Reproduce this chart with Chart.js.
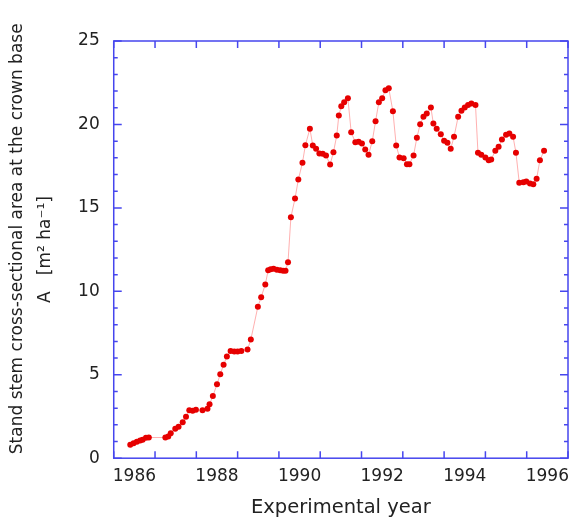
<!DOCTYPE html>
<html>
<head>
<meta charset="utf-8">
<script src="https://cdn.jsdelivr.net/npm/chart.js@4.4.1/dist/chart.umd.min.js"></script>
<style>
  html, body { margin: 0; padding: 0; background: #fff; }
  #wrap { width: 571px; height: 521px; }
</style>
</head>
<body>
<div id="wrap"><canvas id="chart"></canvas></div>
<script>
// Stand stem cross-sectional area at the crown base, 1986-1996
const years = [
  1986.40, 1986.48, 1986.56, 1986.64, 1986.70, 1986.78, 1986.85,
  1987.25, 1987.32, 1987.38, 1987.49, 1987.57, 1987.67, 1987.75, 1987.83, 1987.91, 1987.99,
  1988.15, 1988.27, 1988.32, 1988.40, 1988.50, 1988.58, 1988.66, 1988.74, 1988.83, 1988.92,
  1989.00, 1989.09, 1989.24, 1989.32, 1989.49, 1989.57, 1989.67, 1989.74, 1989.80, 1989.87, 1989.95,
  1990.03, 1990.10, 1990.16, 1990.22, 1990.29, 1990.39, 1990.47, 1990.57, 1990.64, 1990.75, 1990.82, 1990.90, 1990.98,
  1991.06, 1991.14, 1991.24, 1991.32, 1991.40, 1991.45, 1991.51, 1991.58, 1991.67, 1991.75, 1991.85, 1991.93,
  1992.01, 1992.09, 1992.17, 1992.26, 1992.34, 1992.42, 1992.50, 1992.58, 1992.66, 1992.76, 1992.84, 1992.92,
  1993.02, 1993.10, 1993.16, 1993.26, 1993.34, 1993.42, 1993.50, 1993.58, 1993.68, 1993.74, 1993.82, 1993.92,
  1994.00, 1994.08, 1994.16, 1994.24, 1994.34, 1994.42, 1994.50, 1994.58, 1994.66, 1994.76, 1994.82, 1994.90,
  1995.00, 1995.08, 1995.14, 1995.24, 1995.32, 1995.40, 1995.50, 1995.58, 1995.67, 1995.74, 1995.82, 1995.92, 1995.99,
  1996.08, 1996.16, 1996.24, 1996.32, 1996.42
];
const area = [
  0.80, 0.90, 0.98, 1.06, 1.10, 1.22, 1.24,
  1.24, 1.30, 1.50, 1.76, 1.88, 2.16, 2.48, 2.88, 2.84, 2.90,
  2.88, 2.96, 3.24, 3.72, 4.43, 5.03, 5.60, 6.09, 6.43, 6.39,
  6.39, 6.43, 6.51, 7.11, 9.07, 9.65, 10.41, 11.26, 11.32, 11.35, 11.30,
  11.26, 11.24, 11.24, 11.74, 14.44, 15.56, 16.70, 17.70, 18.75, 19.74, 18.74, 18.54, 18.26,
  18.24, 18.14, 17.60, 18.33, 19.33, 20.53, 21.09, 21.33, 21.57, 19.53, 18.93, 18.97,
  18.86, 18.50, 18.18, 18.99, 20.19, 21.33, 21.57, 22.05, 22.17, 20.79, 18.74, 18.02,
  17.98, 17.62, 17.62, 18.14, 19.20, 20.01, 20.46, 20.65, 21.01, 20.05, 19.74, 19.41,
  19.02, 18.90, 18.54, 19.26, 20.46, 20.82, 21.01, 21.17, 21.25, 21.17, 18.30, 18.18,
  18.02, 17.86, 17.90, 18.42, 18.66, 19.10, 19.38, 19.46, 19.26, 18.30, 16.50, 16.54, 16.58,
  16.46, 16.42, 16.74, 17.86, 18.42
];

// axis ticks
const xTickYears = [1986, 1987, 1988, 1989, 1990, 1991, 1992, 1993, 1994, 1995, 1996, 1997];
const xLabelYears = [1986, 1988, 1990, 1992, 1994, 1996];
const xLabels = ['1986', '1988', '1990', '1992', '1994', '1996'];
const yMinorTicks = [0, 1, 2, 3, 4, 5, 6, 7, 8, 9, 10, 11, 12, 13, 14, 15, 16, 17, 18, 19, 20, 21, 22, 23, 24, 25];
const yMajorTicks = [0, 5, 10, 15, 20, 25];

const FONT = 'DejaVu Sans, sans-serif';
const AXIS_BLUE = '#4646ee';

// blue box with inward tick marks on all four sides
const frameTicks = {
  id: 'frameTicks',
  afterDraw(chart) {
    const ctx = chart.ctx;
    const a = chart.chartArea;
    const xs = chart.scales.x, ys = chart.scales.y;
    ctx.save();
    ctx.strokeStyle = AXIS_BLUE;
    ctx.lineWidth = 1.5;
    ctx.strokeRect(a.left, a.top, a.right - a.left, a.bottom - a.top);
    ctx.beginPath();
    xTickYears.forEach(yr => {
      const px = xs.getPixelForValue(yr);
      ctx.moveTo(px, a.bottom); ctx.lineTo(px, a.bottom - 7);
      ctx.moveTo(px, a.top); ctx.lineTo(px, a.top + 7);
    });
    yMinorTicks.forEach(v => {
      const py = ys.getPixelForValue(v);
      const len = yMajorTicks.includes(v) ? 8 : 4;
      ctx.moveTo(a.left, py); ctx.lineTo(a.left + len, py);
      ctx.moveTo(a.right, py); ctx.lineTo(a.right - len, py);
    });
    ctx.stroke();
    ctx.restore();
  }
};

new Chart(document.getElementById('chart'), {
  type: 'scatter',
  data: {
    datasets: [{
      data: years.map((yr, i) => ({ x: yr, y: area[i] })),
      showLine: true,
      borderColor: 'rgba(255, 80, 80, 0.45)',
      borderWidth: 1,
      pointRadius: 3,
      pointBackgroundColor: '#e60000',
      pointBorderWidth: 0,
      pointHoverRadius: 3
    }]
  },
  options: {
    responsive: true,
    maintainAspectRatio: false,
    animation: false,
    layout: { padding: { top: 41, right: 3, left: 4, bottom: 1 } },
    plugins: {
      legend: { display: false },
      tooltip: { enabled: false }
    },
    scales: {
      x: {
        type: 'linear',
        min: 1986,
        max: 1997,
        grid: { display: false, drawTicks: false },
        border: { display: false },
        afterBuildTicks: scale => {
          scale.ticks = xLabelYears.map(yr => ({ value: yr + 0.5 }));
        },
        // let the last label run into the margin, as in the original
        afterFit: scale => {
          scale.paddingRight = 0;
        },
        ticks: {
          autoSkip: false,
          maxRotation: 0,
          padding: 8,
          color: '#222',
          font: { family: FONT, size: 17 },
          callback: (v, i) => xLabels[i]
        },
        title: {
          display: true,
          text: 'Experimental year',
          color: '#222',
          font: { family: FONT, size: 19.5 },
          padding: { top: 2, bottom: 0 }
        }
      },
      y: {
        min: 0,
        max: 25,
        grid: { display: false, drawTicks: false },
        border: { display: false },
        afterBuildTicks: scale => {
          scale.ticks = yMajorTicks.map(v => ({ value: v }));
        },
        ticks: {
          padding: 14,
          color: '#222',
          font: { family: FONT, size: 17 }
        },
        title: {
          display: true,
          text: ['    Stand stem cross-sectional area at the crown base', 'A   [m\u00b2 ha\u207b\u00b9]'],
          color: '#222',
          font: { family: FONT, size: 17, lineHeight: 1.65 },
          padding: { top: 0, bottom: 4 }
        }
      }
    }
  },
  plugins: [frameTicks]
});
</script>
</body>
</html>
